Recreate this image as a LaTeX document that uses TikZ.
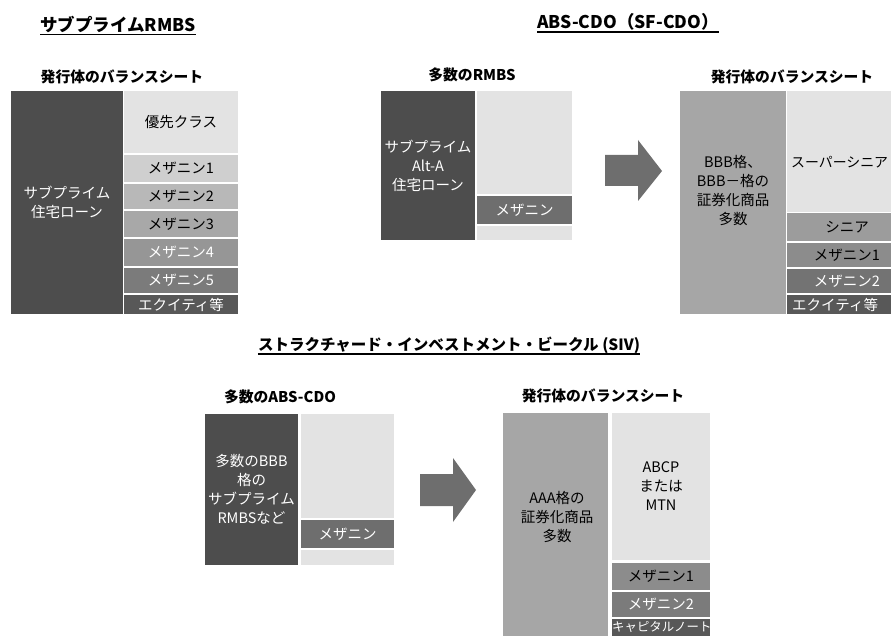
\documentclass[tikz,border=0pt]{standalone}
\usepackage{fontspec}
\setmainfont{Noto Sans CJK JP}
\usetikzlibrary{calc}
\definecolor{cdark}{HTML}{4D4D4D}
\definecolor{clight}{HTML}{E3E3E3}
\definecolor{cmid}{HTML}{A6A6A6}
\definecolor{carrow}{HTML}{6E6E6E}
\definecolor{gA}{HTML}{CFCFCF}
\definecolor{gB}{HTML}{B8B8B8}
\definecolor{gC}{HTML}{A8A8A8}
\definecolor{gD}{HTML}{969696}
\definecolor{gE}{HTML}{7B7B7B}
\definecolor{gF}{HTML}{585858}
\definecolor{gS}{HTML}{9C9C9C}
\definecolor{gM}{HTML}{8C8C8C}
\definecolor{gN}{HTML}{737373}
\newcommand\cellbox[8]{\node[cell,fill=#6,text=#7,minimum width={#4-#2},minimum height={#5-#3}] (#1) at ({(#2+#4)/2},{(#3+#5)/2}) {#8};}
\tikzset{
  cell/.style={draw=none,inner sep=0pt,outer sep=0pt,align=center,font=\fontsize{14.5}{19}\selectfont},
  boxtext/.style={inner sep=0pt,align=center,font=\fontsize{14.5}{19}\selectfont},
  head/.style={inner sep=0pt,font=\bfseries\fontsize{14.8}{17}\selectfont},
  ttl/.style={inner sep=0pt,font=\bfseries\fontsize{17.5}{19}\selectfont},
  ttlb/.style={inner sep=0pt,font=\bfseries\fontsize{15.5}{18}\selectfont},
  uline/.style={line width=1.7pt},
  bigarrow/.style={fill=carrow,draw=none}
}
\begin{document}
\begin{tikzpicture}[x=1pt,y=-1pt]
\useasboundingbox (0,0) rectangle (891,636);
\clip (0,0) rectangle (891,636);

% ---------- top left: subprime RMBS
\node[ttl] (t1) at (118,24) {サブプライムRMBS};
\draw[uline] ($(t1.base west)+(0,3.5)$) -- ($(t1.base east)+(0,3.5)$);
\node[head] (h1) at (122,77) {発行体のバランスシート};
\cellbox{a0}{11}{91}{123}{314}{cdark}{white}{サブプライム\\住宅ローン}
\cellbox{a1}{124}{91}{238}{153}{clight}{black}{優先クラス}
\cellbox{a2}{124}{155}{238}{182}{gA}{black}{メザニン1}
\cellbox{a3}{124}{184}{238}{209}{gB}{black}{メザニン2}
\cellbox{a4}{124}{211}{238}{237}{gC}{black}{メザニン3}
\cellbox{a5}{124}{239}{238}{266}{gD}{white}{メザニン4}
\cellbox{a6}{124}{268}{238}{293}{gE}{white}{メザニン5}
\cellbox{a7}{124}{295}{238}{314}{gF}{white}{エクイティ等}

% ---------- top middle: ABS-CDO
\node[ttl] (t2) at (628,22) {ABS-CDO（SF-CDO）};
\draw[uline] ($(t2.base west)+(0,3.5)$) -- ($(t2.base east)+(0,3.5)$);
\node[head] (h2) at (472,75) {多数のRMBS};
\cellbox{b0}{381}{91}{475}{240}{cdark}{white}{サブプライム\\Alt-A\\住宅ローン}
\cellbox{b1}{477}{91}{572}{194}{clight}{black}{}
\cellbox{b2}{477}{196}{572}{224}{carrow}{white}{メザニン}
\cellbox{b3}{477}{226}{572}{240}{clight}{black}{}

\fill[bigarrow] (605,155) -- (638,155) -- (638,140) -- (662,171) -- (638,201) -- (638,186) -- (605,186) -- cycle;

\node[head] (h3) at (792,77) {発行体のバランスシート};
\cellbox{c0}{680}{91}{786}{314}{cmid}{black}{}
\node[boxtext] (c0t) at (733,191) {BBB格、\\BBB－格の\\証券化商品\\多数};
\cellbox{c1}{787}{91}{907}{212}{clight}{black}{}
\node[boxtext,anchor=west,font=\fontsize{13.9}{19}\selectfont] (c1t) at (791,162) {スーパーシニア};
\cellbox{c2}{787}{213}{907}{241}{gS}{black}{シニア}
\cellbox{c3}{787}{243}{907}{267}{gM}{black}{メザニン1}
\cellbox{c4}{787}{269}{907}{293}{gN}{white}{メザニン2}
\cellbox{c5}{787}{295}{907}{314}{gF}{white}{}
\node[boxtext,anchor=west,text=white] (c5t) at (792,304.5) {エクイティ等};

% ---------- bottom: SIV
\node[ttlb] (t3) at (449,345) {ストラクチャード・インベストメント・ビークル (SIV)};
\draw[uline] ($(t3.base west)+(0,3.5)$) -- ($(t3.base east)+(0,3.5)$);
\node[head] (h4) at (280,397) {多数のABS-CDO};
\cellbox{d0}{205}{414}{298}{565}{cdark}{white}{多数のBBB\\格の\\サブプライム\\RMBSなど}
\cellbox{d1}{301}{414}{394}{518}{clight}{black}{}
\cellbox{d2}{301}{520}{394}{548}{carrow}{white}{メザニン}
\cellbox{d3}{301}{550}{394}{565}{clight}{black}{}

\fill[bigarrow] (420,474) -- (453,474) -- (453,458) -- (476,490) -- (453,522) -- (453,506) -- (420,506) -- cycle;

\node[head] (h5) at (603,396) {発行体のバランスシート};
\cellbox{e0}{503}{413}{608}{640}{cmid}{black}{}
\node[boxtext] (e0t) at (557,517) {AAA格の\\証券化商品\\多数};
\cellbox{e1}{612}{413}{710}{560}{clight}{black}{ABCP\\または\\MTN}
\cellbox{e2}{612}{563}{710}{590}{gM}{black}{メザニン1}
\cellbox{e3}{612}{592}{710}{617}{gE}{white}{メザニン2}
\cellbox{e4}{612}{619}{710}{640}{gF}{white}{}
\node[boxtext,anchor=west,text=white,font=\fontsize{12.4}{14}\selectfont] (e4t) at (612,627.5) {キャピタルノート};
\end{tikzpicture}
\end{document}
